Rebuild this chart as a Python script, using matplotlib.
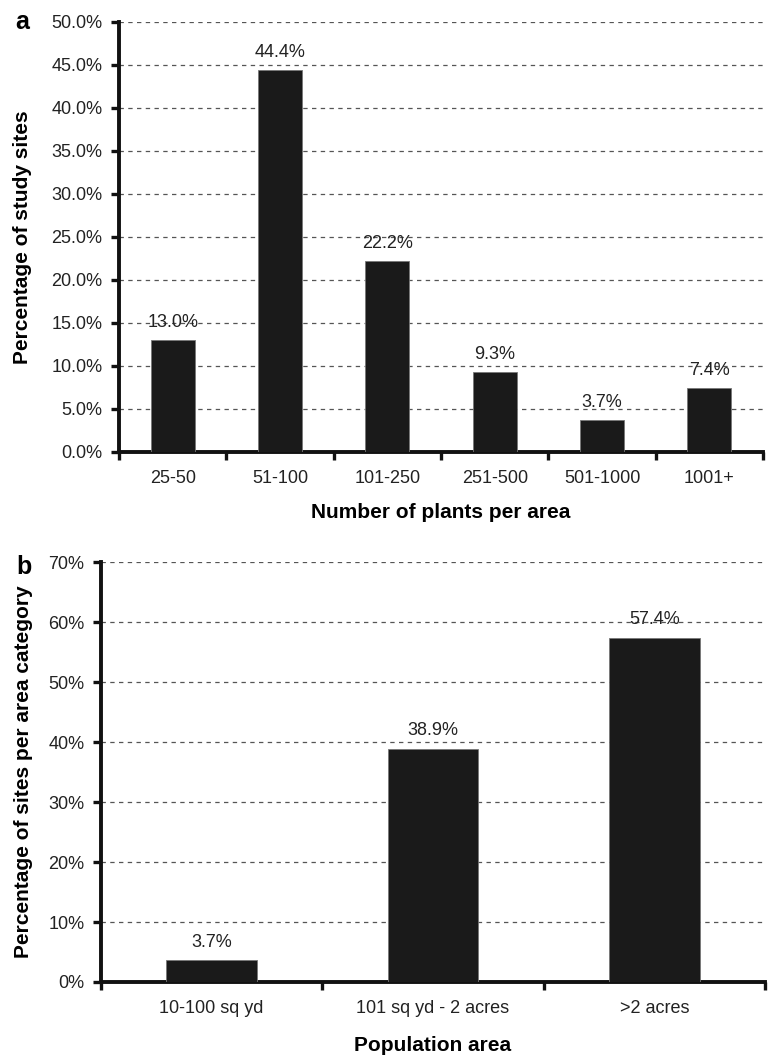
import matplotlib.pyplot as plt
from matplotlib.ticker import FuncFormatter, FixedLocator

plt.rcParams['font.family'] = ['Liberation Sans', 'DejaVu Sans']

# panel a
plants_cats = ['25-50', '51-100', '101-250', '251-500', '501-1000', '1001+']
plants_pct = [13.0, 44.4, 22.2, 9.3, 3.7, 7.4]

# panel b
area_cats = ['10-100 sq yd', '101 sq yd - 2 acres', '>2 acres']
area_pct = [3.7, 38.9, 57.4]


def style_axes(ax, ncat, ymax, ystep, fmt):
    ax.set_xlim(0, ncat)
    ax.set_ylim(0, ymax)
    ax.set_yticks([i * ystep for i in range(int(round(ymax / ystep)) + 1)])
    ax.yaxis.set_major_formatter(FuncFormatter(fmt))
    ax.xaxis.set_major_locator(FixedLocator(range(ncat + 1)))
    ax.xaxis.set_minor_locator(FixedLocator([i + 0.5 for i in range(ncat)]))
    ax.tick_params(axis='x', which='major', length=6, width=2.4, labelbottom=False, color='#111111')
    ax.tick_params(axis='x', which='minor', length=0, labelsize=13, pad=13, labelcolor='#222222')
    ax.tick_params(axis='y', length=6, width=2.4, labelsize=13, pad=6, color='#111111',
                   labelcolor='#222222')
    for s in ['top', 'right']:
        ax.spines[s].set_visible(False)
    for s in ['left', 'bottom']:
        ax.spines[s].set_linewidth(2.8)
        ax.spines[s].set_color('#111111')
    ax.grid(axis='y', linestyle=(0, (3.5, 3.5)), color='#555555', linewidth=0.9)
    ax.set_axisbelow(True)


def draw_bars(ax, cats, vals, label_fmt):
    xs = [i + 0.5 for i in range(len(cats))]
    bars = ax.bar(xs, vals, width=0.41, color='#1a1a1a', edgecolor='#777777',
                  linewidth=0.6, zorder=3)
    ax.set_xticklabels(cats, minor=True)
    for b, v in zip(bars, vals):
        ax.annotate(label_fmt.format(v), (b.get_x() + b.get_width() / 2, v),
                    xytext=(0, 9.5), textcoords='offset points',
                    ha='center', va='baseline', fontsize=13, color='#222222', zorder=4)


fig = plt.figure(figsize=(7.68, 10.55), dpi=100)

# panel a
ax1 = fig.add_axes([0.155, 0.5716, 0.8385, 0.4076])
style_axes(ax1, len(plants_cats), 50, 5, lambda v, p: f'{v:.1f}%')
draw_bars(ax1, plants_cats, plants_pct, '{:.1f}%')
ax1.set_xlabel('Number of plants per area', fontsize=15, fontweight='bold', va='top')
ax1.set_ylabel('Percentage of study sites', fontsize=15, fontweight='bold')
ax1.xaxis.set_label_coords(0.5, -0.118)
ax1.yaxis.set_label_coords(-0.135, 0.5)
fig.text(0.029, 0.979, 'a', fontsize=18, fontweight='bold', ha='center', va='center')

# panel b
ax2 = fig.add_axes([0.1315, 0.0692, 0.8646, 0.398])
style_axes(ax2, len(area_cats), 70, 10, lambda v, p: f'{v:.0f}%')
draw_bars(ax2, area_cats, area_pct, '{:.1f}%')
ax2.set_xlabel('Population area', fontsize=15, fontweight='bold', va='top')
ax2.set_ylabel('Percentage of sites per area category', fontsize=15, fontweight='bold')
ax2.xaxis.set_label_coords(0.5, -0.128)
ax2.yaxis.set_label_coords(-0.102, 0.5)
fig.text(0.031, 0.463, 'b', fontsize=18, fontweight='bold', ha='center', va='center')

fig.savefig('out.png', dpi=100)
